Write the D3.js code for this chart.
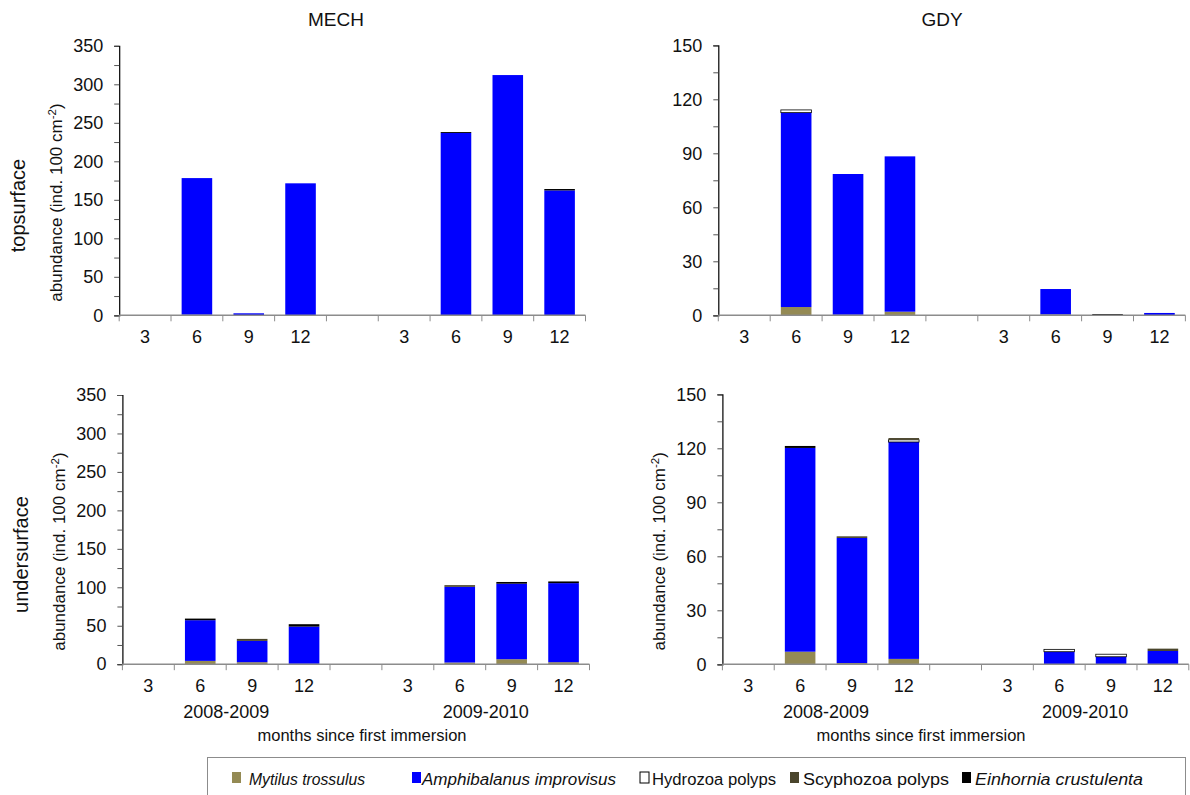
<!DOCTYPE html>
<html>
<head>
<meta charset="utf-8">
<script src="https://cdn.jsdelivr.net/npm/d3@7"></script>
<style>
  html, body { margin: 0; padding: 0; background: #fff; }
  svg { display: block; font-family: "Liberation Sans", Arial, sans-serif; }
</style>
</head>
<body>
<svg id="chart" width="1190" height="795"></svg>
<script>
// Categories
const periods = ["2008-2009", "2009-2010"];
const months = ["3", "6", "9", "12"];
const species = ["Mytilus trossulus", "Amphibalanus improvisus", "Hydrozoa polyps", "Scyphozoa polyps", "Einhornia crustulenta"];
const speciesItalic = [true, true, false, false, true];
const speciesColors = ["#948a54", "#0000ff", "#ffffff", "#4a452c", "#000000"];

// Abundance (ind. 100 cm-2), 8 values per series: 2008-2009 months 3,6,9,12 then 2009-2010 months 3,6,9,12
// MECH, topsurface
const mechTopMytilus      = [0, 0.8, 0, 0,      0, 0, 0, 0];
const mechTopAmphibalanus = [0, 177.4, 2.6, 171.4, 0, 236.8, 312, 162.2];
const mechTopHydrozoa     = [0, 0, 0, 0,        0, 0, 0, 0];
const mechTopScyphozoa    = [0, 0, 0, 0,        0, 0, 0, 0];
const mechTopEinhornia    = [0, 0, 0, 0,        0, 1.2, 0, 1.8];
// GDY, topsurface
const gdyTopMytilus       = [0, 4.6, 0.3, 2.0,  0, 0.5, 0, 0];
const gdyTopAmphibalanus  = [0, 108, 78.2, 86.3, 0, 14.1, 0.2, 1.3];
const gdyTopHydrozoa      = [0, 1.5, 0, 0,      0, 0, 0, 0];
const gdyTopScyphozoa     = [0, 0, 0, 0,        0, 0, 0, 0];
const gdyTopEinhornia     = [0, 0, 0, 0,        0, 0, 0.5, 0];
// MECH, undersurface
const mechUnderMytilus      = [0, 4.3, 2.6, 0.5,   0, 2.2, 6.5, 2.6];
const mechUnderAmphibalanus = [0, 52.9, 27.7, 48.4, 0, 98.4, 98.2, 102.8];
const mechUnderHydrozoa     = [0, 0, 0, 0,         0, 0, 0, 0];
const mechUnderScyphozoa    = [0, 0, 2.6, 0,       0, 2.2, 0, 0];
const mechUnderEinhornia    = [0, 2.1, 0, 3.1,     0, 0, 2.2, 2.2];
// GDY, undersurface
const gdyUnderMytilus       = [0, 7.0, 0.7, 3.0,   0, 0, 0, 0];
const gdyUnderAmphibalanus  = [0, 113.2, 69.5, 120.5, 0, 7.0, 4.2, 7.4];
const gdyUnderHydrozoa      = [0, 0, 0, 1.2,       0, 1.3, 1.4, 0];
const gdyUnderScyphozoa     = [0, 0, 0.9, 1.0,     0, 0, 0, 1.3];
const gdyUnderEinhornia     = [0, 1.1, 0, 0,       0, 0, 0, 0];

// Axis ticks
const mechTicks = [0, 50, 100, 150, 200, 250, 300, 350];
const gdyTicks = [0, 30, 60, 90, 120, 150];
const mechMinorStep = 25;
const gdyMinorStep = 15;

const svg = d3.select("#chart");

// 9 slots: 4 months, an empty gap, 4 months
const slots = d3.range(9);
const slotOf = i => (i < 4 ? i : i + 1);
const slotLabels = [...months, "", ...months];

function buildRows(series) {
  return d3.range(8).map(i => {
    const row = { slot: slotOf(i) };
    species.forEach((s, k) => { row[s] = series[k][i]; });
    return row;
  });
}

const panels = [
  { series: [mechTopMytilus, mechTopAmphibalanus, mechTopHydrozoa, mechTopScyphozoa, mechTopEinhornia],
    ticks: mechTicks, minor: mechMinorStep, x0: 119.2, x1: 585.5, y0: 315.3, y1: 45.8,
    title: "MECH", titleX: 336, yTitle: true, rowTitle: "topsurface", years: false },
  { series: [gdyTopMytilus, gdyTopAmphibalanus, gdyTopHydrozoa, gdyTopScyphozoa, gdyTopEinhornia],
    ticks: gdyTicks, minor: gdyMinorStep, x0: 718.3, x1: 1185.4, y0: 315.3, y1: 45.3,
    title: "GDY", titleX: 942, yTitle: false, rowTitle: null, years: false },
  { series: [mechUnderMytilus, mechUnderAmphibalanus, mechUnderHydrozoa, mechUnderScyphozoa, mechUnderEinhornia],
    ticks: mechTicks, minor: mechMinorStep, x0: 122.4, x1: 589.5, y0: 664.2, y1: 395,
    title: null, yTitle: true, rowTitle: "undersurface", years: true, axisTitleX: 362 },
  { series: [gdyUnderMytilus, gdyUnderAmphibalanus, gdyUnderHydrozoa, gdyUnderScyphozoa, gdyUnderEinhornia],
    ticks: gdyTicks, minor: gdyMinorStep, x0: 722.4, x1: 1188.8, y0: 664.3, y1: 394.3,
    title: null, yTitle: true, rowTitle: null, years: true, axisTitleX: 921 }
];

const stack = d3.stack().keys(species);

panels.forEach(p => {
  const g = svg.append("g");
  const x = d3.scaleBand().domain(slots).range([p.x0, p.x1]).padding(0);
  const yMax = p.ticks[p.ticks.length - 1];
  const y = d3.scaleLinear().domain([0, yMax]).range([p.y0, p.y1]);
  const barW = x.bandwidth() * 0.59;

  // stacked bars
  const layers = stack(buildRows(p.series));
  layers.forEach((layer, k) => {
    g.append("g")
      .selectAll("rect")
      .data(layer.filter(d => d[1] - d[0] > 0))
      .join("rect")
      .attr("x", d => x(d.data.slot) + (x.bandwidth() - barW) / 2)
      .attr("width", barW)
      .attr("y", d => y(d[1]))
      .attr("height", d => Math.max(0.8, y(d[0]) - y(d[1])))
      .attr("fill", speciesColors[k])
      .attr("stroke", k === 2 ? "#000" : "none")
      .attr("stroke-width", k === 2 ? 0.8 : 0);
  });

  // y axis with minor ticks, labels on major ticks
  const allTicks = d3.range(0, yMax + 0.001, p.minor);
  const yAxis = d3.axisLeft(y).tickValues(allTicks).tickSize(5).tickPadding(11)
    .tickFormat(v => (p.ticks.includes(v) ? v : ""));
  const ya = g.append("g").attr("transform", `translate(${p.x0},0)`).call(yAxis);
  ya.select(".domain").attr("stroke", "#000").attr("stroke-width", 1.2);
  ya.selectAll(".tick line").attr("stroke", "#555");
  ya.selectAll(".tick text").attr("font-size", 18)
    .attr("font-family", "\"Liberation Sans\", Arial, sans-serif").attr("fill", "#111");

  // x axis: ticks at band boundaries, labels centred in bands
  const xa = g.append("g");
  xa.append("line").attr("x1", p.x0).attr("x2", p.x1).attr("y1", p.y0).attr("y2", p.y0)
    .attr("stroke", "#8c8c8c").attr("stroke-width", 1.5);
  const bounds = d3.range(10).map(i => (i < 9 ? x(i) : x(8) + x.bandwidth()));
  xa.selectAll("line.b").data(bounds).join("line").attr("class", "b")
    .attr("x1", d => d).attr("x2", d => d).attr("y1", p.y0).attr("y2", p.y0 + 6)
    .attr("stroke", "#8c8c8c").attr("stroke-width", 1);
  xa.selectAll("text").data(slots).join("text")
    .attr("x", d => x(d) + x.bandwidth() / 2)
    .attr("y", p.y0 + 28)
    .attr("text-anchor", "middle")
    .attr("font-size", 18).attr("fill", "#111")
    .text(d => slotLabels[d]);

  if (p.years) {
    const c1 = (x(0) + x(3) + x.bandwidth()) / 2;
    const c2 = (x(5) + x(8) + x.bandwidth()) / 2;
    [[c1, periods[0]], [c2, periods[1]]].forEach(([cx, t]) => {
      g.append("text").attr("x", cx).attr("y", p.y0 + 54).attr("text-anchor", "middle")
        .attr("font-size", 18).attr("fill", "#111").text(t);
    });
    g.append("text").attr("x", p.axisTitleX).attr("y", p.y0 + 77)
      .attr("text-anchor", "middle").attr("font-size", 16.5).attr("fill", "#111")
      .text("months since first immersion");
  }

  if (p.title) {
    g.append("text").attr("x", p.titleX).attr("y", 26)
      .attr("text-anchor", "middle").attr("font-size", 19).attr("fill", "#111").text(p.title);
  }

  if (p.yTitle) {
    const cy = (p.y0 + p.y1) / 2 + 22;
    const t = g.append("text")
      .attr("transform", `translate(${p.x0 - 57},${cy}) rotate(-90)`)
      .attr("text-anchor", "middle").attr("font-size", 17).attr("fill", "#111");
    t.append("tspan").text("abundance (ind. 100 cm");
    t.append("tspan").attr("dy", -6).attr("font-size", 11.5).text("-2");
    t.append("tspan").attr("dy", 6).text(")");
  }

  if (p.rowTitle) {
    const cy = (p.y0 + p.y1) / 2 + 25;
    g.append("text")
      .attr("transform", `translate(${p.x0 - 94},${cy}) rotate(-90)`)
      .attr("text-anchor", "middle").attr("font-size", 20).attr("fill", "#111")
      .text(p.rowTitle);
  }
});

// Legend
const legend = svg.append("g");
legend.append("rect").attr("x", 207.5).attr("y", 757.5).attr("width", 978).attr("height", 45)
  .attr("fill", "#fff").attr("stroke", "#8c8c8c").attr("stroke-width", 1);
const legendBoxX = [232, 412, 640, 790, 962];
const legendTextX = [249, 422, 652, 803, 975];
const legendTextW = [116, 194, 124, 146, 168];
species.forEach((s, k) => {
  legend.append("rect").attr("x", legendBoxX[k]).attr("y", 772).attr("width", 9).attr("height", 11)
    .attr("fill", speciesColors[k]).attr("stroke", k === 2 ? "#000" : "none").attr("stroke-width", 1);
  legend.append("text").attr("x", legendTextX[k]).attr("y", 785)
    .attr("font-size", 16).attr("fill", "#111")
    .attr("font-style", speciesItalic[k] ? "italic" : "normal")
    .attr("textLength", legendTextW[k]).attr("lengthAdjust", "spacingAndGlyphs")
    .text(s);
});
</script>
</body>
</html>
